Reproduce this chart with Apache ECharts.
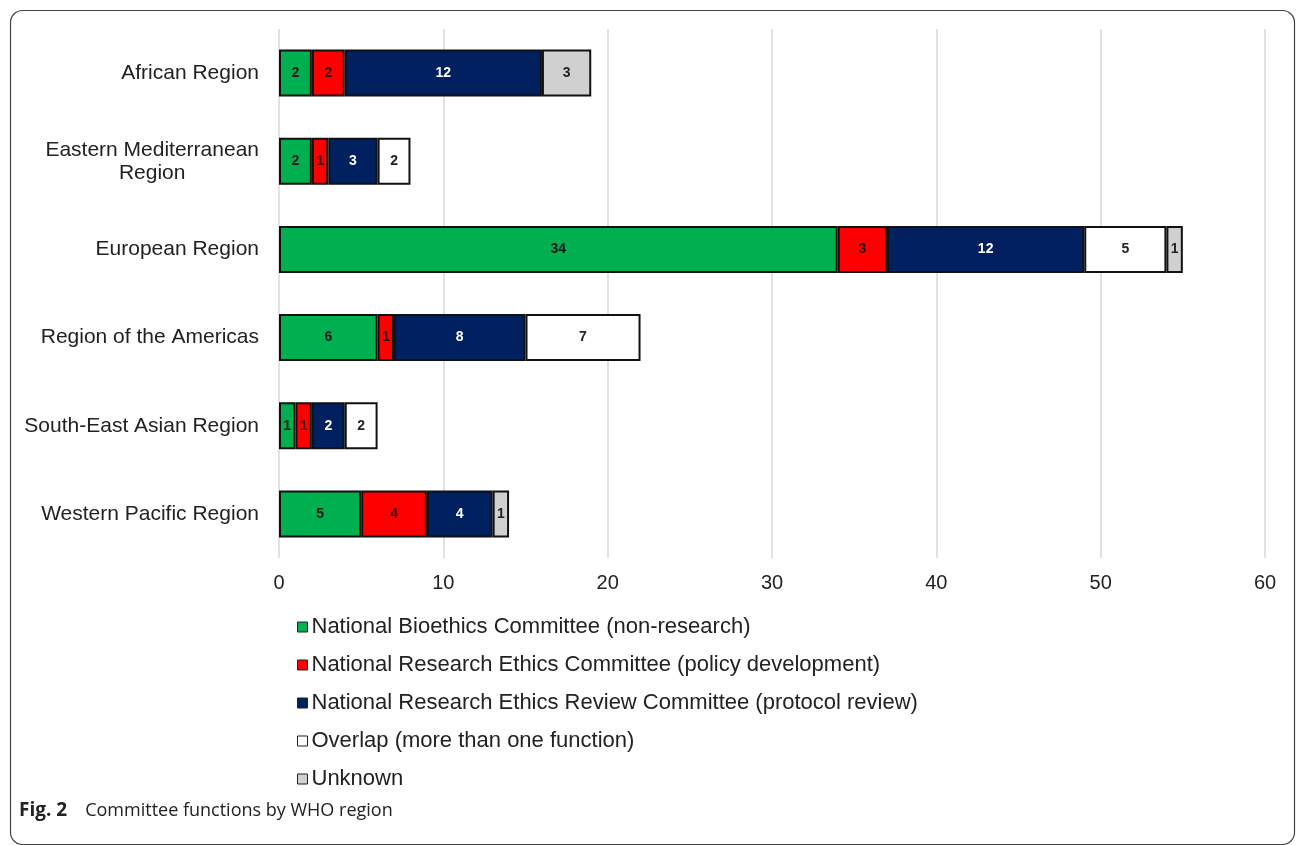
<!DOCTYPE html>
<html>
<head>
<meta charset="utf-8">
<script src="https://cdn.jsdelivr.net/npm/echarts@6/dist/echarts.min.js"></script>
<style>
html,body{margin:0;padding:0;background:#fff;}
#chart{width:1296px;height:845px;}
</style>
</head>
<body>
<div id="chart"></div>
<script>
const regions = ['African Region', 'Eastern Mediterranean\nRegion', 'European Region', 'Region of the Americas', 'South-East Asian Region', 'Western Pacific Region'];
const seriesNames = ['National Bioethics Committee (non-research)', 'National Research Ethics Committee (policy development)', 'National Research Ethics Review Committee (protocol review)', 'Overlap (more than one function)', 'Unknown'];
const bioethics = [2, 2, 34, 6, 1, 5];
const policy = [2, 1, 3, 1, 1, 4];
const review = [12, 3, 12, 8, 2, 4];
const overlap = [0, 2, 5, 7, 2, 0];
const unknown = [3, 0, 1, 0, 0, 1];
const xTicks = [0, 10, 20, 30, 40, 50, 60];

const values = [bioethics, policy, review, overlap, unknown];
const colors = ['#00b050', '#ff0000', '#002060', '#ffffff', '#d0d0d0'];
const labelColors = ['#1a1a1a', '#3a0000', '#ffffff', '#222222', '#222222'];

const chart = echarts.init(document.getElementById('chart'));
const series = values.map((arr, i) => ({
  name: seriesNames[i],
  type: 'bar',
  stack: 'total',
  barWidth: 47,
  data: arr.map(v => v === 0 ? '-' : v),
  itemStyle: { color: colors[i], borderColor: '#111', borderWidth: 2 },
  label: {
    show: true,
    position: 'inside',
    color: labelColors[i],
    fontFamily: 'Liberation Sans, Arial, sans-serif',
    fontSize: 14,
    fontWeight: 'bold'
  },
  emphasis: { disabled: true }
}));

chart.setOption({
  animation: false,
  backgroundColor: '#fff',
  grid: { left: 279, right: 31, top: 29, bottom: 287 },
  xAxis: {
    type: 'value',
    min: xTicks[0],
    max: xTicks[xTicks.length - 1],
    interval: 10,
    axisLine: { show: false },
    axisTick: { show: false },
    axisLabel: { color: '#222', fontSize: 20, fontFamily: 'Liberation Sans, Arial, sans-serif', margin: 15 },
    splitLine: { show: true, lineStyle: { color: '#d9d9d9', width: 1.5 } }
  },
  yAxis: {
    type: 'category',
    data: regions,
    inverse: true,
    axisLine: { show: false },
    axisTick: { show: false },
    axisLabel: {
      color: '#222', fontSize: 21, lineHeight: 23, fontFamily: 'Liberation Sans, Arial, sans-serif', margin: 20, align: 'right',
      formatter: v => v.split('\n').map(s => '{m|' + s + '}').join('\n'),
      rich: { m: { align: 'center', color: '#222', fontSize: 21, lineHeight: 23, fontFamily: 'Liberation Sans, Arial, sans-serif' } }
    }
  },
  legend: {
    orient: 'vertical',
    left: 292,
    top: 611,
    itemWidth: 10,
    itemHeight: 10,
    itemGap: 16,
    icon: 'rect',
    selectedMode: false,
    itemStyle: { borderColor: '#222', borderWidth: 1 },
    textStyle: { color: '#222', fontSize: 22, lineHeight: 22, fontFamily: 'Liberation Sans, Arial, sans-serif', padding: [0, 0, 0, -1] },
    data: seriesNames
  },
  title: {
    left: 14,
    top: 796,
    text: '{b|Fig. 2}{n|Committee functions by WHO region}',
    textStyle: {
      rich: {
        b: { fontFamily: 'Open Sans, sans-serif', fontWeight: 'bold', fontSize: 19, color: '#222', padding: [0, 18, 0, 0] },
        n: { fontFamily: 'Open Sans, sans-serif', fontWeight: 'normal', fontSize: 18, color: '#222' }
      }
    }
  },
  graphic: [{
    type: 'rect',
    shape: { x: 10.5, y: 10.5, width: 1284, height: 834, r: 12 },
    style: { fill: 'none', stroke: '#444', lineWidth: 1.2 },
    silent: true
  }],
  series: series
});
</script>
</body>
</html>
